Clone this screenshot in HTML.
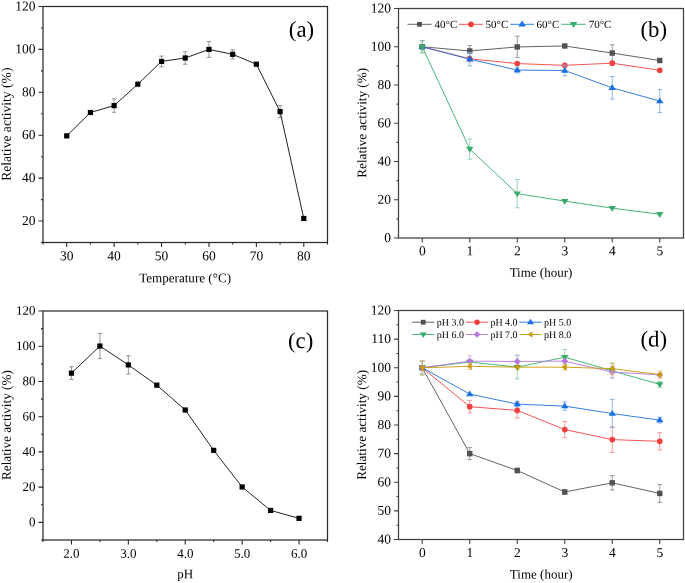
<!DOCTYPE html>
<html><head><meta charset="utf-8"><title>Figure</title>
<style>
html,body{margin:0;padding:0;background:#fff;}
body{width:685px;height:583px;overflow:hidden;}
svg{display:block;will-change:transform;}
text{font-family:"Liberation Serif", serif;fill:#000;}
</style></head>
<body>
<svg width="685" height="583" viewBox="0 0 685 583">
<rect width="685" height="583" fill="#fff"/>
<rect x="43" y="6.5" width="284.5" height="236" fill="none" stroke="#2b2b2b" stroke-width="1.25"/>
<path d="M66.71 242.5v4.5 M114.12 242.5v4.5 M161.54 242.5v4.5 M208.96 242.5v4.5 M256.38 242.5v4.5 M303.79 242.5v4.5 M43 242.5v2 M90.42 242.5v2 M137.83 242.5v2 M185.25 242.5v2 M232.67 242.5v2 M280.08 242.5v2 M327.5 242.5v2 M43 221.05h-4.5 M43 178.14h-4.5 M43 135.23h-4.5 M43 92.32h-4.5 M43 49.41h-4.5 M43 6.5h-4.5 M43 242.5h-2 M43 199.59h-2 M43 156.68h-2 M43 113.77h-2 M43 70.86h-2 M43 27.95h-2" stroke="#2b2b2b" stroke-width="1.1" fill="none"/>
<text x="66.71" y="260.2" text-anchor="middle" font-size="13.5" transform="rotate(0.05 66.71 260.2)">30</text>
<text x="114.12" y="260.2" text-anchor="middle" font-size="13.5" transform="rotate(0.05 114.12 260.2)">40</text>
<text x="161.54" y="260.2" text-anchor="middle" font-size="13.5" transform="rotate(0.05 161.54 260.2)">50</text>
<text x="208.96" y="260.2" text-anchor="middle" font-size="13.5" transform="rotate(0.05 208.96 260.2)">60</text>
<text x="256.38" y="260.2" text-anchor="middle" font-size="13.5" transform="rotate(0.05 256.38 260.2)">70</text>
<text x="303.79" y="260.2" text-anchor="middle" font-size="13.5" transform="rotate(0.05 303.79 260.2)">80</text>
<text x="35.5" y="224.96" text-anchor="end" font-size="13.5" transform="rotate(0.05 35.5 224.96)">20</text>
<text x="35.5" y="182.05" text-anchor="end" font-size="13.5" transform="rotate(0.05 35.5 182.05)">40</text>
<text x="35.5" y="139.14" text-anchor="end" font-size="13.5" transform="rotate(0.05 35.5 139.14)">60</text>
<text x="35.5" y="96.23" text-anchor="end" font-size="13.5" transform="rotate(0.05 35.5 96.23)">80</text>
<text x="35.5" y="53.32" text-anchor="end" font-size="13.5" transform="rotate(0.05 35.5 53.32)">100</text>
<text x="35.5" y="10.41" text-anchor="end" font-size="13.5" transform="rotate(0.05 35.5 10.41)">120</text>
<text transform="translate(10.8,124.2) rotate(-89.95)" text-anchor="middle" font-size="13.6">Relative activity (%)</text>
<text x="185.1" y="282.3" text-anchor="middle" font-size="13.1" transform="rotate(0.05 185.1 282.3)">Temperature (&#176;C)</text>
<text x="301.5" y="36.8" text-anchor="middle" font-size="22.8" transform="rotate(0.05 301.5 36.8)">(a)</text>
<path d="M114.12 98.97V112.27M111.92 98.97h4.4M111.92 112.27h4.4 M161.54 56.06V66.79M159.34 56.06h4.4M159.34 66.79h4.4 M185.25 51.77V64.21M183.05 51.77h4.4M183.05 64.21h4.4 M208.96 41.47V57.35M206.76 41.47h4.4M206.76 57.35h4.4 M232.67 49.84V58.85M230.47 49.84h4.4M230.47 58.85h4.4 M280.08 105.62V117.63M277.88 105.62h4.4M277.88 117.63h4.4" stroke="#888" stroke-width="0.9" fill="none"/>
<polyline points="66.71,135.87 90.42,112.49 114.12,105.62 137.83,84.17 161.54,61.42 185.25,57.99 208.96,49.41 232.67,54.34 256.38,64.21 280.08,111.63 303.79,218.47" fill="none" stroke="#222" stroke-width="1.0"/>
<rect x="64.11" y="133.27" width="5.2" height="5.2" fill="#000"/>
<rect x="87.82" y="109.89" width="5.2" height="5.2" fill="#000"/>
<rect x="111.53" y="103.02" width="5.2" height="5.2" fill="#000"/>
<rect x="135.23" y="81.57" width="5.2" height="5.2" fill="#000"/>
<rect x="158.94" y="58.82" width="5.2" height="5.2" fill="#000"/>
<rect x="182.65" y="55.39" width="5.2" height="5.2" fill="#000"/>
<rect x="206.36" y="46.81" width="5.2" height="5.2" fill="#000"/>
<rect x="230.07" y="51.74" width="5.2" height="5.2" fill="#000"/>
<rect x="253.78" y="61.61" width="5.2" height="5.2" fill="#000"/>
<rect x="277.48" y="109.03" width="5.2" height="5.2" fill="#000"/>
<rect x="301.19" y="215.87" width="5.2" height="5.2" fill="#000"/>
<rect x="398.5" y="8.5" width="285" height="229.5" fill="none" stroke="#404040" stroke-width="1.25"/>
<path d="M422.25 238v4.5 M469.75 238v4.5 M517.25 238v4.5 M564.75 238v4.5 M612.25 238v4.5 M659.75 238v4.5 M398.5 238h-4.5 M398.5 199.75h-4.5 M398.5 161.5h-4.5 M398.5 123.25h-4.5 M398.5 85h-4.5 M398.5 46.75h-4.5 M398.5 8.5h-4.5 M398.5 218.88h-2 M398.5 180.62h-2 M398.5 142.38h-2 M398.5 104.12h-2 M398.5 65.88h-2 M398.5 27.62h-2" stroke="#404040" stroke-width="1.1" fill="none"/>
<text x="422.25" y="255.3" text-anchor="middle" font-size="13.5" transform="rotate(0.05 422.25 255.3)">0</text>
<text x="469.75" y="255.3" text-anchor="middle" font-size="13.5" transform="rotate(0.05 469.75 255.3)">1</text>
<text x="517.25" y="255.3" text-anchor="middle" font-size="13.5" transform="rotate(0.05 517.25 255.3)">2</text>
<text x="564.75" y="255.3" text-anchor="middle" font-size="13.5" transform="rotate(0.05 564.75 255.3)">3</text>
<text x="612.25" y="255.3" text-anchor="middle" font-size="13.5" transform="rotate(0.05 612.25 255.3)">4</text>
<text x="659.75" y="255.3" text-anchor="middle" font-size="13.5" transform="rotate(0.05 659.75 255.3)">5</text>
<text x="391" y="241.91" text-anchor="end" font-size="13.5" transform="rotate(0.05 391 241.91)">0</text>
<text x="391" y="203.66" text-anchor="end" font-size="13.5" transform="rotate(0.05 391 203.66)">20</text>
<text x="391" y="165.41" text-anchor="end" font-size="13.5" transform="rotate(0.05 391 165.41)">40</text>
<text x="391" y="127.17" text-anchor="end" font-size="13.5" transform="rotate(0.05 391 127.17)">60</text>
<text x="391" y="88.92" text-anchor="end" font-size="13.5" transform="rotate(0.05 391 88.92)">80</text>
<text x="391" y="50.66" text-anchor="end" font-size="13.5" transform="rotate(0.05 391 50.66)">100</text>
<text x="391" y="12.41" text-anchor="end" font-size="13.5" transform="rotate(0.05 391 12.41)">120</text>
<text transform="translate(366.2,122.8) rotate(-89.95)" text-anchor="middle" font-size="13.2">Relative activity (%)</text>
<text x="541" y="276.7" text-anchor="middle" font-size="13" transform="rotate(0.05 541 276.7)">Time (hour)</text>
<text x="653.8" y="36.8" text-anchor="middle" font-size="22.8" transform="rotate(0.05 653.8 36.8)">(b)</text>
<path d="M422.25 40.63V52.87M419.85 40.63h4.8M419.85 52.87h4.8 M469.75 45.6V56.31M467.35 45.6h4.8M467.35 56.31h4.8 M517.25 36.23V57.65M514.85 36.23h4.8M514.85 57.65h4.8 M612.25 44.84V61.28M609.85 44.84h4.8M609.85 61.28h4.8" stroke="#8f8f8f" stroke-width="0.9" fill="none"/>
<polyline points="422.25,46.75 469.75,50.96 517.25,46.94 564.75,45.98 612.25,53.06 659.75,60.52" fill="none" stroke="#515151" stroke-width="0.9"/>
<rect x="419.55" y="44.05" width="5.4" height="5.4" fill="#515151"/>
<rect x="467.05" y="48.26" width="5.4" height="5.4" fill="#515151"/>
<rect x="514.55" y="44.24" width="5.4" height="5.4" fill="#515151"/>
<rect x="562.05" y="43.28" width="5.4" height="5.4" fill="#515151"/>
<rect x="609.55" y="50.36" width="5.4" height="5.4" fill="#515151"/>
<rect x="657.05" y="57.82" width="5.4" height="5.4" fill="#515151"/>
<polyline points="422.25,46.75 469.75,58.8 517.25,63.58 564.75,65.3 612.25,63.2 659.75,70.27" fill="none" stroke="#F14040" stroke-width="0.9"/>
<circle cx="422.25" cy="46.75" r="2.84" fill="#F14040"/>
<circle cx="469.75" cy="58.8" r="2.84" fill="#F14040"/>
<circle cx="517.25" cy="63.58" r="2.84" fill="#F14040"/>
<circle cx="564.75" cy="65.3" r="2.84" fill="#F14040"/>
<circle cx="612.25" cy="63.2" r="2.84" fill="#F14040"/>
<circle cx="659.75" cy="70.27" r="2.84" fill="#F14040"/>
<path d="M469.75 52.49V65.88M467.35 52.49h4.8M467.35 65.88h4.8 M517.25 67.21V72.95M514.85 67.21h4.8M514.85 72.95h4.8 M564.75 65.11V75.82M562.35 65.11h4.8M562.35 75.82h4.8 M612.25 76.58V99.15M609.85 76.58h4.8M609.85 99.15h4.8 M659.75 89.59V112.54M657.35 89.59h4.8M657.35 112.54h4.8" stroke="#82aeec" stroke-width="0.9" fill="none"/>
<polyline points="422.25,46.75 469.75,59.18 517.25,70.08 564.75,70.47 612.25,87.87 659.75,101.07" fill="none" stroke="#1A6FDF" stroke-width="0.9"/>
<path d="M422.25 43.08L425.92 48.95L418.58 48.95Z" fill="#1A6FDF"/>
<path d="M469.75 55.51L473.42 61.38L466.08 61.38Z" fill="#1A6FDF"/>
<path d="M517.25 66.41L520.92 72.29L513.58 72.29Z" fill="#1A6FDF"/>
<path d="M564.75 66.79L568.42 72.67L561.08 72.67Z" fill="#1A6FDF"/>
<path d="M612.25 84.2L615.92 90.07L608.58 90.07Z" fill="#1A6FDF"/>
<path d="M659.75 97.39L663.42 103.27L656.08 103.27Z" fill="#1A6FDF"/>
<path d="M422.25 41.01V52.49M419.85 41.01h4.8M419.85 52.49h4.8 M469.75 138.93V159.2M467.35 138.93h4.8M467.35 159.2h4.8 M517.25 179.48V207.78M514.85 179.48h4.8M514.85 207.78h4.8" stroke="#8fd0ab" stroke-width="0.9" fill="none"/>
<polyline points="422.25,46.75 469.75,149.07 517.25,193.63 564.75,201.09 612.25,208.16 659.75,214.28" fill="none" stroke="#37AD6B" stroke-width="0.9"/>
<path d="M422.25 50.42L425.92 44.55L418.58 44.55Z" fill="#37AD6B"/>
<path d="M469.75 152.74L473.42 146.87L466.08 146.87Z" fill="#37AD6B"/>
<path d="M517.25 197.3L520.92 191.43L513.58 191.43Z" fill="#37AD6B"/>
<path d="M564.75 204.76L568.42 198.89L561.08 198.89Z" fill="#37AD6B"/>
<path d="M612.25 211.84L615.92 205.96L608.58 205.96Z" fill="#37AD6B"/>
<path d="M659.75 217.96L663.42 212.08L656.08 212.08Z" fill="#37AD6B"/>
<line x1="407.5" y1="24.3" x2="431.5" y2="24.3" stroke="#515151" stroke-width="0.9"/>
<rect x="417.1" y="21.9" width="4.8" height="4.8" fill="#515151"/>
<text x="434.6" y="28.04" font-size="11" transform="rotate(0.05 434.6 28.04)">40&#176;C</text>
<line x1="459" y1="24.3" x2="483" y2="24.3" stroke="#F14040" stroke-width="0.9"/>
<circle cx="471" cy="24.3" r="2.89" fill="#F14040"/>
<text x="485.6" y="28.04" font-size="11" transform="rotate(0.05 485.6 28.04)">50&#176;C</text>
<line x1="510.3" y1="24.3" x2="534" y2="24.3" stroke="#1A6FDF" stroke-width="0.9"/>
<path d="M522.15 20.56L525.89 26.54L518.41 26.54Z" fill="#1A6FDF"/>
<text x="536.6" y="28.04" font-size="11" transform="rotate(0.05 536.6 28.04)">60&#176;C</text>
<line x1="561.3" y1="24.3" x2="585.8" y2="24.3" stroke="#37AD6B" stroke-width="0.9"/>
<path d="M573.55 28.04L577.29 22.06L569.81 22.06Z" fill="#37AD6B"/>
<text x="588.7" y="28.04" font-size="11" transform="rotate(0.05 588.7 28.04)">70&#176;C</text>
<rect x="43" y="311" width="284.5" height="229" fill="none" stroke="#2b2b2b" stroke-width="1.25"/>
<path d="M71.45 540v4.5 M128.35 540v4.5 M185.25 540v4.5 M242.15 540v4.5 M299.05 540v4.5 M43 540v2 M99.9 540v2 M156.8 540v2 M213.7 540v2 M270.6 540v2 M327.5 540v2 M43 522.38h-4.5 M43 487.15h-4.5 M43 451.92h-4.5 M43 416.69h-4.5 M43 381.46h-4.5 M43 346.23h-4.5 M43 311h-4.5 M43 540h-2 M43 504.77h-2 M43 469.54h-2 M43 434.31h-2 M43 399.08h-2 M43 363.85h-2 M43 328.62h-2" stroke="#2b2b2b" stroke-width="1.1" fill="none"/>
<text x="71.45" y="557.8" text-anchor="middle" font-size="13" transform="rotate(0.05 71.45 557.8)">2.0</text>
<text x="128.35" y="557.8" text-anchor="middle" font-size="13" transform="rotate(0.05 128.35 557.8)">3.0</text>
<text x="185.25" y="557.8" text-anchor="middle" font-size="13" transform="rotate(0.05 185.25 557.8)">4.0</text>
<text x="242.15" y="557.8" text-anchor="middle" font-size="13" transform="rotate(0.05 242.15 557.8)">5.0</text>
<text x="299.05" y="557.8" text-anchor="middle" font-size="13" transform="rotate(0.05 299.05 557.8)">6.0</text>
<text x="35.5" y="526.15" text-anchor="end" font-size="13" transform="rotate(0.05 35.5 526.15)">0</text>
<text x="35.5" y="490.92" text-anchor="end" font-size="13" transform="rotate(0.05 35.5 490.92)">20</text>
<text x="35.5" y="455.69" text-anchor="end" font-size="13" transform="rotate(0.05 35.5 455.69)">40</text>
<text x="35.5" y="420.46" text-anchor="end" font-size="13" transform="rotate(0.05 35.5 420.46)">60</text>
<text x="35.5" y="385.23" text-anchor="end" font-size="13" transform="rotate(0.05 35.5 385.23)">80</text>
<text x="35.5" y="350" text-anchor="end" font-size="13" transform="rotate(0.05 35.5 350)">100</text>
<text x="35.5" y="314.77" text-anchor="end" font-size="13" transform="rotate(0.05 35.5 314.77)">120</text>
<text transform="translate(10.8,425.1) rotate(-89.95)" text-anchor="middle" font-size="13.2">Relative activity (%)</text>
<text x="185.2" y="578.2" text-anchor="middle" font-size="13" transform="rotate(0.05 185.2 578.2)">pH</text>
<text x="300.6" y="348" text-anchor="middle" font-size="22.8" transform="rotate(0.05 300.6 348)">(c)</text>
<path d="M71.45 366.84V379.52M69.25 366.84h4.4M69.25 379.52h4.4 M99.9 333.37V358.74M97.7 333.37h4.4M97.7 358.74h4.4 M128.35 355.74V374.06M126.15 355.74h4.4M126.15 374.06h4.4" stroke="#888" stroke-width="0.9" fill="none"/>
<polyline points="71.45,373.18 99.9,346.05 128.35,364.9 156.8,385.16 185.25,410 213.7,450.34 242.15,486.98 270.6,510.41 299.05,518.33" fill="none" stroke="#222" stroke-width="1.0"/>
<rect x="68.85" y="370.58" width="5.2" height="5.2" fill="#000"/>
<rect x="97.3" y="343.45" width="5.2" height="5.2" fill="#000"/>
<rect x="125.75" y="362.3" width="5.2" height="5.2" fill="#000"/>
<rect x="154.2" y="382.56" width="5.2" height="5.2" fill="#000"/>
<rect x="182.65" y="407.4" width="5.2" height="5.2" fill="#000"/>
<rect x="211.1" y="447.74" width="5.2" height="5.2" fill="#000"/>
<rect x="239.55" y="484.38" width="5.2" height="5.2" fill="#000"/>
<rect x="268" y="507.81" width="5.2" height="5.2" fill="#000"/>
<rect x="296.45" y="515.73" width="5.2" height="5.2" fill="#000"/>
<rect x="398.5" y="310.5" width="285" height="229" fill="none" stroke="#404040" stroke-width="1.25"/>
<path d="M422.25 539.5v4.5 M469.75 539.5v4.5 M517.25 539.5v4.5 M564.75 539.5v4.5 M612.25 539.5v4.5 M659.75 539.5v4.5 M398.5 539.5h-4.5 M398.5 510.88h-4.5 M398.5 482.25h-4.5 M398.5 453.62h-4.5 M398.5 425h-4.5 M398.5 396.38h-4.5 M398.5 367.75h-4.5 M398.5 339.12h-4.5 M398.5 310.5h-4.5 M398.5 525.19h-2 M398.5 496.56h-2 M398.5 467.94h-2 M398.5 439.31h-2 M398.5 410.69h-2 M398.5 382.06h-2 M398.5 353.44h-2 M398.5 324.81h-2" stroke="#404040" stroke-width="1.1" fill="none"/>
<text x="422.25" y="557.1" text-anchor="middle" font-size="13.5" transform="rotate(0.05 422.25 557.1)">0</text>
<text x="469.75" y="557.1" text-anchor="middle" font-size="13.5" transform="rotate(0.05 469.75 557.1)">1</text>
<text x="517.25" y="557.1" text-anchor="middle" font-size="13.5" transform="rotate(0.05 517.25 557.1)">2</text>
<text x="564.75" y="557.1" text-anchor="middle" font-size="13.5" transform="rotate(0.05 564.75 557.1)">3</text>
<text x="612.25" y="557.1" text-anchor="middle" font-size="13.5" transform="rotate(0.05 612.25 557.1)">4</text>
<text x="659.75" y="557.1" text-anchor="middle" font-size="13.5" transform="rotate(0.05 659.75 557.1)">5</text>
<text x="391" y="543.41" text-anchor="end" font-size="13.5" transform="rotate(0.05 391 543.41)">40</text>
<text x="391" y="514.79" text-anchor="end" font-size="13.5" transform="rotate(0.05 391 514.79)">50</text>
<text x="391" y="486.17" text-anchor="end" font-size="13.5" transform="rotate(0.05 391 486.17)">60</text>
<text x="391" y="457.54" text-anchor="end" font-size="13.5" transform="rotate(0.05 391 457.54)">70</text>
<text x="391" y="428.92" text-anchor="end" font-size="13.5" transform="rotate(0.05 391 428.92)">80</text>
<text x="391" y="400.29" text-anchor="end" font-size="13.5" transform="rotate(0.05 391 400.29)">90</text>
<text x="391" y="371.67" text-anchor="end" font-size="13.5" transform="rotate(0.05 391 371.67)">100</text>
<text x="391" y="343.04" text-anchor="end" font-size="13.5" transform="rotate(0.05 391 343.04)">110</text>
<text x="391" y="314.42" text-anchor="end" font-size="13.5" transform="rotate(0.05 391 314.42)">120</text>
<text transform="translate(366.1,424.9) rotate(-89.95)" text-anchor="middle" font-size="13.2">Relative activity (%)</text>
<text x="541.2" y="578.5" text-anchor="middle" font-size="13" transform="rotate(0.05 541.2 578.5)">Time (hour)</text>
<text x="653.8" y="346.5" text-anchor="middle" font-size="22.8" transform="rotate(0.05 653.8 346.5)">(d)</text>
<path d="M422.25 360.59V374.91M419.85 360.59h4.8M419.85 374.91h4.8 M469.75 447.61V459.64M467.35 447.61h4.8M467.35 459.64h4.8 M517.25 468.22V472.8M514.85 468.22h4.8M514.85 472.8h4.8 M564.75 489.69V494.27M562.35 489.69h4.8M562.35 494.27h4.8 M612.25 475.67V489.98M609.85 475.67h4.8M609.85 489.98h4.8 M659.75 484.54V502.29M657.35 484.54h4.8M657.35 502.29h4.8" stroke="#8f8f8f" stroke-width="0.9" fill="none"/>
<polyline points="422.25,367.75 469.75,453.62 517.25,470.51 564.75,491.98 612.25,482.82 659.75,493.41" fill="none" stroke="#515151" stroke-width="0.9"/>
<rect x="419.55" y="365.05" width="5.4" height="5.4" fill="#515151"/>
<rect x="467.05" y="450.93" width="5.4" height="5.4" fill="#515151"/>
<rect x="514.55" y="467.81" width="5.4" height="5.4" fill="#515151"/>
<rect x="562.05" y="489.28" width="5.4" height="5.4" fill="#515151"/>
<rect x="609.55" y="480.12" width="5.4" height="5.4" fill="#515151"/>
<rect x="657.05" y="490.71" width="5.4" height="5.4" fill="#515151"/>
<path d="M469.75 400.38V412.98M467.35 400.38h4.8M467.35 412.98h4.8 M517.25 402.67V418.13M514.85 402.67h4.8M514.85 418.13h4.8 M564.75 421.42V437.74M562.35 421.42h4.8M562.35 437.74h4.8 M612.25 426.72V452.48M609.85 426.72h4.8M609.85 452.48h4.8 M659.75 432.73V449.9M657.35 432.73h4.8M657.35 449.9h4.8" stroke="#f49090" stroke-width="0.9" fill="none"/>
<polyline points="422.25,367.75 469.75,406.68 517.25,410.4 564.75,429.58 612.25,439.6 659.75,441.32" fill="none" stroke="#F14040" stroke-width="0.9"/>
<circle cx="422.25" cy="367.75" r="2.84" fill="#F14040"/>
<circle cx="469.75" cy="406.68" r="2.84" fill="#F14040"/>
<circle cx="517.25" cy="410.4" r="2.84" fill="#F14040"/>
<circle cx="564.75" cy="429.58" r="2.84" fill="#F14040"/>
<circle cx="612.25" cy="439.6" r="2.84" fill="#F14040"/>
<circle cx="659.75" cy="441.32" r="2.84" fill="#F14040"/>
<path d="M422.25 361.45V374.05M419.85 361.45h4.8M419.85 374.05h4.8 M517.25 401.24V406.97M514.85 401.24h4.8M514.85 406.97h4.8 M564.75 401.96V410.26M562.35 401.96h4.8M562.35 410.26h4.8 M612.25 399.52V427.58M609.85 399.52h4.8M609.85 427.58h4.8 M659.75 417.27V423M657.35 417.27h4.8M657.35 423h4.8" stroke="#82aeec" stroke-width="0.9" fill="none"/>
<polyline points="422.25,367.75 469.75,394.09 517.25,404.1 564.75,406.11 612.25,413.55 659.75,420.13" fill="none" stroke="#1A6FDF" stroke-width="0.9"/>
<path d="M422.25 364.08L425.92 369.95L418.58 369.95Z" fill="#1A6FDF"/>
<path d="M469.75 390.41L473.42 396.29L466.08 396.29Z" fill="#1A6FDF"/>
<path d="M517.25 400.43L520.92 406.31L513.58 406.31Z" fill="#1A6FDF"/>
<path d="M564.75 402.44L568.42 408.31L561.08 408.31Z" fill="#1A6FDF"/>
<path d="M612.25 409.88L615.92 415.75L608.58 415.75Z" fill="#1A6FDF"/>
<path d="M659.75 416.46L663.42 422.34L656.08 422.34Z" fill="#1A6FDF"/>
<path d="M517.25 355.44V378.91M514.85 355.44h4.8M514.85 378.91h4.8 M564.75 349.43V364.89M562.35 349.43h4.8M562.35 364.89h4.8 M612.25 363.74V378.05M609.85 363.74h4.8M609.85 378.05h4.8 M659.75 381.49V387.22M657.35 381.49h4.8M657.35 387.22h4.8" stroke="#8fd0ab" stroke-width="0.9" fill="none"/>
<polyline points="422.25,367.75 469.75,362.02 517.25,367.18 564.75,357.16 612.25,370.9 659.75,384.35" fill="none" stroke="#37AD6B" stroke-width="0.9"/>
<path d="M422.25 371.42L425.92 365.55L418.58 365.55Z" fill="#37AD6B"/>
<path d="M469.75 365.7L473.42 359.82L466.08 359.82Z" fill="#37AD6B"/>
<path d="M517.25 370.85L520.92 364.97L513.58 364.97Z" fill="#37AD6B"/>
<path d="M564.75 360.83L568.42 354.96L561.08 354.96Z" fill="#37AD6B"/>
<path d="M612.25 374.57L615.92 368.7L608.58 368.7Z" fill="#37AD6B"/>
<path d="M659.75 388.02L663.42 382.15L656.08 382.15Z" fill="#37AD6B"/>
<path d="M469.75 355.44V366.89M467.35 355.44h4.8M467.35 366.89h4.8 M517.25 354.87V368.04M514.85 354.87h4.8M514.85 368.04h4.8 M612.25 366.32V377.77M609.85 366.32h4.8M609.85 377.77h4.8" stroke="#d2b0ec" stroke-width="0.9" fill="none"/>
<polyline points="422.25,367.75 469.75,361.17 517.25,361.45 564.75,361.17 612.25,372.04 659.75,374.91" fill="none" stroke="#B177DE" stroke-width="0.9"/>
<path d="M422.25 364.29L425.71 367.75L422.25 371.21L418.79 367.75Z" fill="#B177DE"/>
<path d="M469.75 357.71L473.21 361.17L469.75 364.62L466.29 361.17Z" fill="#B177DE"/>
<path d="M517.25 358L520.71 361.45L517.25 364.91L513.79 361.45Z" fill="#B177DE"/>
<path d="M564.75 357.71L568.21 361.17L564.75 364.62L561.29 361.17Z" fill="#B177DE"/>
<path d="M612.25 368.59L615.71 372.04L612.25 375.5L608.79 372.04Z" fill="#B177DE"/>
<path d="M659.75 371.45L663.21 374.91L659.75 378.36L656.29 374.91Z" fill="#B177DE"/>
<path d="M422.25 360.59V374.91M419.85 360.59h4.8M419.85 374.91h4.8 M469.75 363.17V369.47M467.35 363.17h4.8M467.35 369.47h4.8 M564.75 364.31V370.04M562.35 364.31h4.8M562.35 370.04h4.8 M612.25 362.88V374.33M609.85 362.88h4.8M609.85 374.33h4.8 M659.75 370.9V378.34M657.35 370.9h4.8M657.35 378.34h4.8" stroke="#e0c470" stroke-width="0.9" fill="none"/>
<polyline points="422.25,367.75 469.75,366.32 517.25,367.18 564.75,367.18 612.25,368.61 659.75,374.62" fill="none" stroke="#CC9900" stroke-width="0.9"/>
<path d="M419.01 367.75L424.19 364.51L424.19 370.99Z" fill="#CC9900"/>
<path d="M466.51 366.32L471.69 363.08L471.69 369.56Z" fill="#CC9900"/>
<path d="M514.01 367.18L519.19 363.94L519.19 370.42Z" fill="#CC9900"/>
<path d="M561.51 367.18L566.69 363.94L566.69 370.42Z" fill="#CC9900"/>
<path d="M609.01 368.61L614.19 365.37L614.19 371.85Z" fill="#CC9900"/>
<path d="M656.51 374.62L661.69 371.38L661.69 377.86Z" fill="#CC9900"/>
<line x1="412.2" y1="322.2" x2="434.3" y2="322.2" stroke="#515151" stroke-width="0.9"/>
<rect x="420.85" y="319.8" width="4.8" height="4.8" fill="#515151"/>
<text x="436.8" y="325.6" font-size="10" transform="rotate(0.05 436.8 325.6)">pH 3.0</text>
<line x1="465.9" y1="322.2" x2="488.2" y2="322.2" stroke="#F14040" stroke-width="0.9"/>
<circle cx="477.05" cy="322.2" r="2.73" fill="#F14040"/>
<text x="490.4" y="325.6" font-size="10" transform="rotate(0.05 490.4 325.6)">pH 4.0</text>
<line x1="519.4" y1="322.2" x2="541.7" y2="322.2" stroke="#1A6FDF" stroke-width="0.9"/>
<path d="M530.55 318.66L534.09 324.32L527.01 324.32Z" fill="#1A6FDF"/>
<text x="544" y="325.6" font-size="10" transform="rotate(0.05 544 325.6)">pH 5.0</text>
<line x1="412.2" y1="334.5" x2="434.3" y2="334.5" stroke="#37AD6B" stroke-width="0.9"/>
<path d="M423.25 338.04L426.79 332.38L419.71 332.38Z" fill="#37AD6B"/>
<text x="436.8" y="337.9" font-size="10" transform="rotate(0.05 436.8 337.9)">pH 6.0</text>
<line x1="465.9" y1="334.5" x2="488.2" y2="334.5" stroke="#B177DE" stroke-width="0.9"/>
<path d="M477.05 331.17L480.38 334.5L477.05 337.83L473.72 334.5Z" fill="#B177DE"/>
<text x="490.4" y="337.9" font-size="10" transform="rotate(0.05 490.4 337.9)">pH 7.0</text>
<line x1="519.4" y1="334.5" x2="541.7" y2="334.5" stroke="#CC9900" stroke-width="0.9"/>
<path d="M527.43 334.5L532.42 331.38L532.42 337.62Z" fill="#CC9900"/>
<text x="544" y="337.9" font-size="10" transform="rotate(0.05 544 337.9)">pH 8.0</text>
</svg>
</body></html>
